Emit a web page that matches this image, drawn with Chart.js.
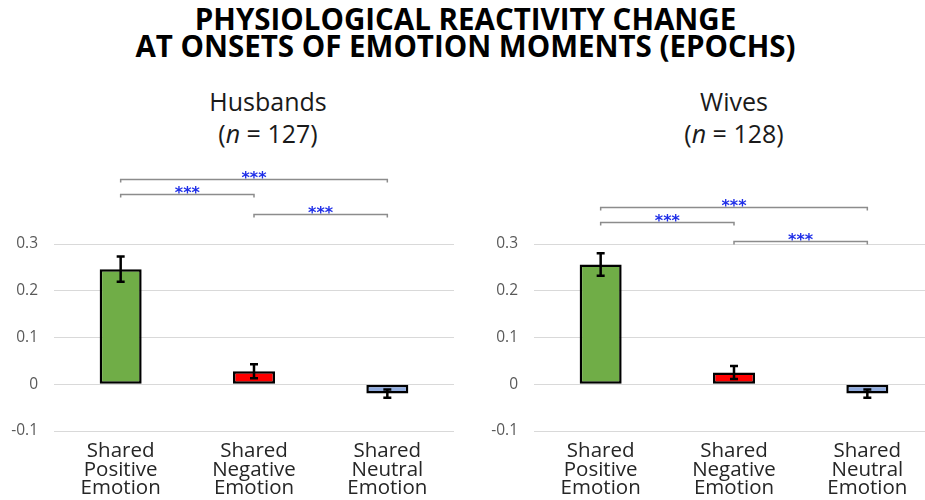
<!DOCTYPE html>
<html>
<head>
<meta charset="utf-8">
<script src="https://cdn.jsdelivr.net/npm/chart.js@4.4.1/dist/chart.umd.min.js"></script>
<style>
  html, body { margin: 0; padding: 0; background: #fff; overflow: hidden; width: 925px; height: 500px; }
  body { position: relative; font-family: "Open Sans", sans-serif; }
  .title { position: absolute; left: 3px; top: 6px; width: 925px; text-align: center; font-weight: bold; font-size: 29.5px; line-height: 26.5px; color: #000; }
  .sub { position: absolute; top: 85px; width: 300px; text-align: center; font-size: 25px; line-height: 32px; color: #1a1a1a; }
  canvas { position: absolute; top: 0; }
</style>
</head>
<body>
<div class="title">PHYSIOLOGICAL REACTIVITY CHANGE<br>AT ONSETS OF EMOTION MOMENTS (EPOCHS)</div>
<div class="sub" style="left:118px">Husbands<br>(<i>n</i> = 127)</div>
<div class="sub" style="left:584px">Wives<br>(<i>n</i> = 128)</div>
<canvas id="husbandsChart" width="460" height="500" style="left:0px"></canvas>
<canvas id="wivesChart" width="460" height="500" style="left:480px"></canvas>

<script>
const categories = [
  ["Shared", "Positive", "Emotion"],
  ["Shared", "Negative", "Emotion"],
  ["Shared", "Neutral", "Emotion"],
];
const husbandsMeans = [0.246, 0.028, -0.02];
const husbandsErrors = [0.027, 0.015, 0.009];
const wivesMeans = [0.256, 0.025, -0.02];
const wivesErrors = [0.024, 0.014, 0.009];
const yTicks = [-0.1, 0, 0.1, 0.2, 0.3];
const barColors = ["#70AD47", "#FF0000", "#8FAADC"];

// significance brackets: [from category, to category, height in y units]
const husbandsBrackets = [[0, 2, 0.439], [0, 1, 0.406], [1, 2, 0.365]];
const wivesBrackets = [[0, 2, 0.38], [0, 1, 0.347], [1, 2, 0.307]];
const sigLabel = "***";

Chart.defaults.font.family = "'Open Sans', sans-serif";

// draws error bars and the significance brackets above the bars
const sigMarks = {
  id: "sigMarks",
  afterDatasetsDraw: (chart, args, options) => {
    const { ctx } = chart;
    const xs = chart.scales.x;
    const ys = chart.scales.y;
    ctx.save();

    ctx.strokeStyle = "#000";
    ctx.lineWidth = 2.5;
    options.means.forEach((m, i) => {
      const px = xs.getPixelForValue(i);
      const top = ys.getPixelForValue(m + options.errors[i]);
      const bot = ys.getPixelForValue(m - options.errors[i]);
      ctx.beginPath();
      ctx.moveTo(px, top);
      ctx.lineTo(px, bot);
      ctx.moveTo(px - 4, top);
      ctx.lineTo(px + 4, top);
      ctx.moveTo(px - 4, bot);
      ctx.lineTo(px + 4, bot);
      ctx.stroke();
    });

    ctx.strokeStyle = "#8c8c8c";
    ctx.lineWidth = 1.5;
    ctx.fillStyle = "#1f2fe8";
    ctx.font = "bold 16px DejaVu Sans";
    ctx.textAlign = "center";
    ctx.textBaseline = "alphabetic";
    options.brackets.forEach(([a, b, level]) => {
      const x1 = xs.getPixelForValue(a);
      const x2 = xs.getPixelForValue(b);
      const py = Math.round(ys.getPixelForValue(level)) + 0.5;
      ctx.beginPath();
      ctx.moveTo(x1, py + 3);
      ctx.lineTo(x1, py);
      ctx.lineTo(x2, py);
      ctx.lineTo(x2, py + 3);
      ctx.stroke();
      ctx.fillText(sigLabel, (x1 + x2) / 2, py + 3);
    });
    ctx.restore();
  },
};

function makeChart(id, means, errors, brackets) {
  return new Chart(document.getElementById(id), {
    type: "bar",
    data: {
      labels: categories,
      datasets: [
        {
          data: means,
          backgroundColor: barColors,
          borderColor: "#000",
          borderWidth: 2.5,
          borderSkipped: false,
          categoryPercentage: 1,
          barPercentage: 0.315,
        },
      ],
    },
    options: {
      responsive: false,
      animation: false,
      layout: { padding: { top: 244, right: 6, left: 0, bottom: 0 } },
      plugins: {
        legend: { display: false },
        tooltip: { enabled: false },
        sigMarks: { means: means, errors: errors, brackets: brackets },
      },
      scales: {
        y: {
          min: -0.1,
          max: 0.3,
          afterBuildTicks: (scale) => {
            scale.ticks = yTicks.map((v) => ({ value: v }));
          },
          afterFit: (scale) => {
            scale.width = 54;
          },
          grid: { color: "#d9d9d9", lineWidth: 1, drawTicks: false },
          border: { display: false },
          ticks: { color: "#595959", font: { size: 15.5 }, padding: 16 },
        },
        x: {
          afterFit: (scale) => {
            scale.height = 69;
          },
          grid: { display: false },
          border: { display: false },
          ticks: {
            color: "#262626",
            font: { size: 20.5, lineHeight: 0.9 },
            padding: 3,
            maxRotation: 0,
          },
        },
      },
    },
    plugins: [sigMarks],
  });
}

makeChart("husbandsChart", husbandsMeans, husbandsErrors, husbandsBrackets);
makeChart("wivesChart", wivesMeans, wivesErrors, wivesBrackets);
</script>
</body>
</html>
